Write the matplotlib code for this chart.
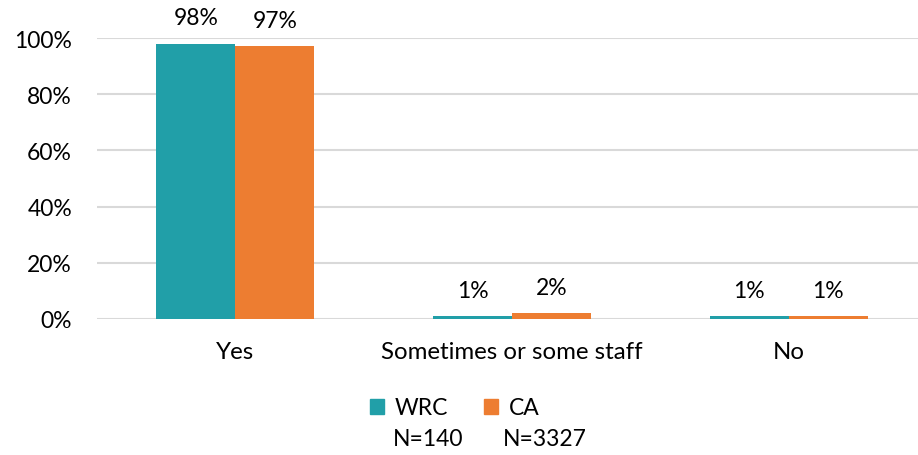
import numpy as np
import matplotlib.pyplot as plt
from matplotlib.patches import Patch

# datos
categorias = ['Yes', 'Sometimes or some staff', 'No']
wrc = [98, 1, 1]
ca = [97, 2, 1]
series = ['WRC', 'CA']
n_labels = ['N=140', 'N=3327']

col_wrc = '#219FA8'
col_ca = '#ED7D31'

plt.rcParams['font.family'] = ['Lato', 'DejaVu Sans']
fs = 16.5

fig = plt.figure(figsize=(9.18, 4.56), dpi=100)
ax = fig.add_axes([97 / 918, 1 - 320 / 456, 830 / 918, 281 / 456])

x = np.arange(len(categorias))
w = 0.286
b1 = ax.bar(x - w / 2, wrc, w, color=col_wrc, zorder=3)
b2 = ax.bar(x + w / 2, ca, w, color=col_ca, zorder=3)

for bars, vals in [(b1, wrc), (b2, ca)]:
    for r, v in zip(bars, vals):
        ax.annotate(f'{v}%', (r.get_x() + r.get_width() / 2, v),
                    xytext=(0, 11), textcoords='offset points',
                    ha='center', va='bottom', fontsize=fs)

ax.set_xlim(-0.5, 2.5)
ax.set_ylim(0, 100)
ax.set_yticks([0, 20, 40, 60, 80, 100])
ax.set_yticklabels([f'{t}%' for t in [0, 20, 40, 60, 80, 100]], fontsize=fs)
ax.set_xticks(x)
ax.set_xticklabels(categorias, fontsize=17.3)
ax.tick_params(axis='both', length=0)
ax.tick_params(axis='y', pad=18)
ax.tick_params(axis='x', pad=16)
ax.grid(axis='y', color='#D9D9D9', linewidth=1.5, zorder=0)
for s in ax.spines.values():
    s.set_visible(False)

handles = [Patch(color=col_wrc), Patch(color=col_ca)]
leg = fig.legend(handles, series, loc='center left', bbox_to_anchor=(349 / 918, 1 - 409 / 456),
                 ncol=2, frameon=False, fontsize=fs, handlelength=0.62, handleheight=0.62,
                 handletextpad=0.45, columnspacing=1.6)
fig.text(393 / 918, 1 - 440 / 456, n_labels[0], fontsize=fs, va='center')
fig.text(503 / 918, 1 - 440 / 456, n_labels[1], fontsize=fs, va='center')

fig.savefig('out.png', dpi=100)
